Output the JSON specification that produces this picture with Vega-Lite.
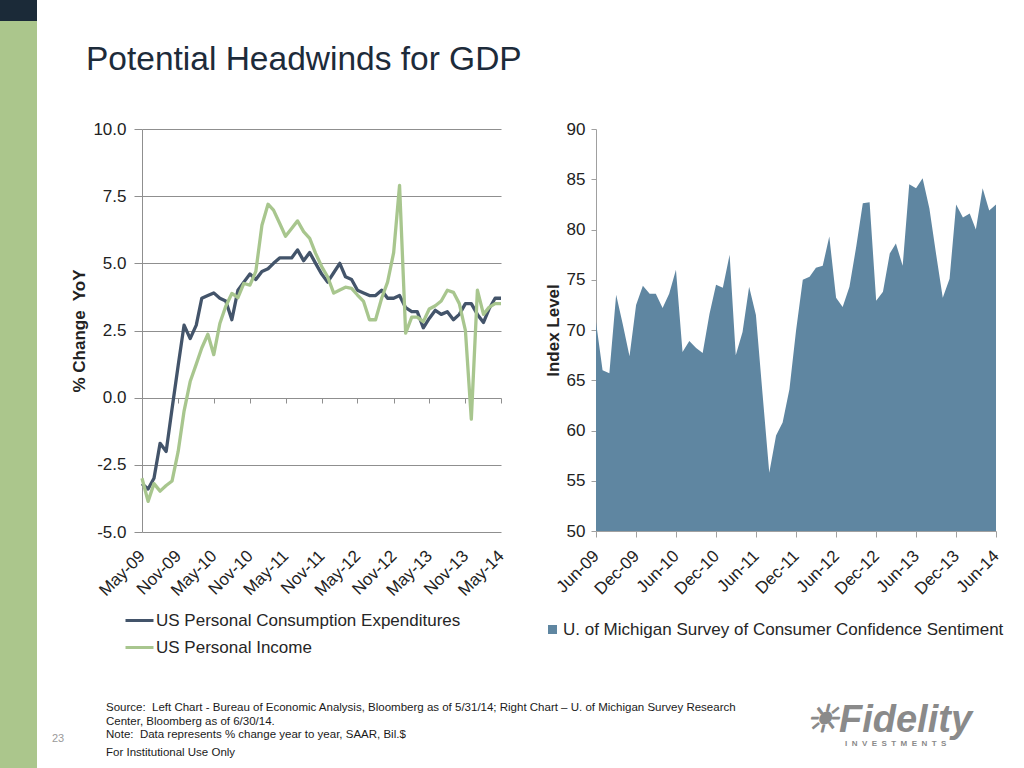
{
  "$schema": "https://vega.github.io/schema/vega-lite/v6.json",
  "padding": 0,
  "background": "#ffffff",
  "spacing": 5,
  "config": {
    "font": "Liberation Sans",
    "view": {"stroke": null},
    "title": {"font": "Liberation Sans", "subtitleFont": "Liberation Sans"},
    "axis": {"labelFont": "Liberation Sans", "titleFont": "Liberation Sans"},
    "legend": {"labelFont": "Liberation Sans"}
  },
  "hconcat": [
    {
      "spacing": 0,
      "vconcat": [
        {"width": 37, "height": 21, "view": {"fill": "#1b2a38", "stroke": null}, "data": {"values": []}, "mark": "point"},
        {"width": 37, "height": 747, "view": {"fill": "#abc68c", "stroke": null}, "data": {"values": []}, "mark": "point"}
      ]
    },
    {
      "width": 1,
      "height": 731,
      "data": {"values": []},
      "mark": "point",
      "title": {"text": "23", "orient": "bottom", "anchor": "start", "dx": 10, "offset": 2, "fontSize": 11, "fontWeight": "normal", "color": "#9a9a9a"}
    },
    {
      "spacing": 43,
      "vconcat": [
        {
          "width": 860,
          "height": 36,
          "data": {"values": []},
          "mark": "point",
          "title": {"text": "Potential Headwinds for GDP", "orient": "bottom", "anchor": "start", "dx": -56, "offset": 8, "fontSize": 33.5, "fontWeight": "normal", "color": "#1d2b3a"}
        },
        {
          "spacing": 37,
          "resolve": {"scale": {"color": "independent"}, "legend": {"color": "independent"}},
          "hconcat": [
            {
              "width": 359,
              "height": 403,
              "data": {
                "format": {"parse": {"m": "date:'%Y-%m'"}},
                "values": [
                  {"m": "2009-05", "pce": -3.2, "income": -3.0},
                  {"m": "2009-06", "pce": -3.4, "income": -3.86},
                  {"m": "2009-07", "pce": -3.0, "income": -3.2},
                  {"m": "2009-08", "pce": -1.7, "income": -3.48},
                  {"m": "2009-09", "pce": -2.0, "income": -3.27},
                  {"m": "2009-10", "pce": -0.4, "income": -3.1},
                  {"m": "2009-11", "pce": 1.2, "income": -2.0},
                  {"m": "2009-12", "pce": 2.7, "income": -0.5},
                  {"m": "2010-01", "pce": 2.2, "income": 0.6},
                  {"m": "2010-02", "pce": 2.7, "income": 1.25},
                  {"m": "2010-03", "pce": 3.7, "income": 1.85},
                  {"m": "2010-04", "pce": 3.8, "income": 2.36},
                  {"m": "2010-05", "pce": 3.9, "income": 1.6},
                  {"m": "2010-06", "pce": 3.7, "income": 2.76},
                  {"m": "2010-07", "pce": 3.6, "income": 3.4},
                  {"m": "2010-08", "pce": 2.9, "income": 3.88},
                  {"m": "2010-09", "pce": 4.0, "income": 3.72},
                  {"m": "2010-10", "pce": 4.3, "income": 4.25},
                  {"m": "2010-11", "pce": 4.6, "income": 4.19},
                  {"m": "2010-12", "pce": 4.4, "income": 4.7},
                  {"m": "2011-01", "pce": 4.7, "income": 6.42},
                  {"m": "2011-02", "pce": 4.8, "income": 7.2},
                  {"m": "2011-03", "pce": 5.0, "income": 6.98},
                  {"m": "2011-04", "pce": 5.2, "income": 6.49},
                  {"m": "2011-05", "pce": 5.2, "income": 6.01},
                  {"m": "2011-06", "pce": 5.2, "income": 6.3},
                  {"m": "2011-07", "pce": 5.5, "income": 6.58},
                  {"m": "2011-08", "pce": 5.1, "income": 6.18},
                  {"m": "2011-09", "pce": 5.4, "income": 5.93},
                  {"m": "2011-10", "pce": 5.0, "income": 5.37},
                  {"m": "2011-11", "pce": 4.6, "income": 4.88},
                  {"m": "2011-12", "pce": 4.3, "income": 4.5},
                  {"m": "2012-01", "pce": 4.65, "income": 3.89},
                  {"m": "2012-02", "pce": 5.0, "income": 4.01},
                  {"m": "2012-03", "pce": 4.5, "income": 4.11},
                  {"m": "2012-04", "pce": 4.4, "income": 4.07},
                  {"m": "2012-05", "pce": 4.0, "income": 3.82},
                  {"m": "2012-06", "pce": 3.9, "income": 3.58},
                  {"m": "2012-07", "pce": 3.8, "income": 2.9},
                  {"m": "2012-08", "pce": 3.8, "income": 2.9},
                  {"m": "2012-09", "pce": 4.0, "income": 3.7},
                  {"m": "2012-10", "pce": 3.7, "income": 4.3},
                  {"m": "2012-11", "pce": 3.7, "income": 5.4},
                  {"m": "2012-12", "pce": 3.8, "income": 7.9},
                  {"m": "2013-01", "pce": 3.35, "income": 2.4},
                  {"m": "2013-02", "pce": 3.2, "income": 3.0},
                  {"m": "2013-03", "pce": 3.2, "income": 3.0},
                  {"m": "2013-04", "pce": 2.6, "income": 2.83},
                  {"m": "2013-05", "pce": 2.95, "income": 3.3},
                  {"m": "2013-06", "pce": 3.25, "income": 3.42},
                  {"m": "2013-07", "pce": 3.1, "income": 3.6},
                  {"m": "2013-08", "pce": 3.2, "income": 4.0},
                  {"m": "2013-09", "pce": 2.9, "income": 3.92},
                  {"m": "2013-10", "pce": 3.1, "income": 3.5},
                  {"m": "2013-11", "pce": 3.5, "income": 2.5},
                  {"m": "2013-12", "pce": 3.5, "income": -0.8},
                  {"m": "2014-01", "pce": 3.1, "income": 4.0},
                  {"m": "2014-02", "pce": 2.8, "income": 3.1},
                  {"m": "2014-03", "pce": 3.3, "income": 3.36},
                  {"m": "2014-04", "pce": 3.7, "income": 3.5},
                  {"m": "2014-05", "pce": 3.7, "income": 3.5}
                ]
              },
              "transform": [{"fold": ["pce", "income"], "as": ["series", "value"]}],
              "layer": [
                {
                  "mark": {"type": "line", "opacity": 0},
                  "encoding": {
                    "x": {
                      "field": "m",
                      "type": "temporal",
                      "scale": {"domain": [{"year": 2009, "month": 5, "date": 1}, {"year": 2014, "month": 5, "date": 1}], "nice": false},
                      "axis": {
                        "orient": "bottom",
                        "offset": -134,
                        "values": [
                          {"year": 2009, "month": 5, "date": 1}, {"year": 2009, "month": 11, "date": 1},
                          {"year": 2010, "month": 5, "date": 1}, {"year": 2010, "month": 11, "date": 1},
                          {"year": 2011, "month": 5, "date": 1}, {"year": 2011, "month": 11, "date": 1},
                          {"year": 2012, "month": 5, "date": 1}, {"year": 2012, "month": 11, "date": 1},
                          {"year": 2013, "month": 5, "date": 1}, {"year": 2013, "month": 11, "date": 1},
                          {"year": 2014, "month": 5, "date": 1}
                        ],
                        "labels": false,
                        "domain": false,
                        "grid": false,
                        "ticks": true,
                        "tickSize": 5,
                        "tickColor": "#8f8f8f",
                        "title": null
                      }
                    },
                    "y": {"field": "value", "type": "quantitative", "scale": {"domain": [-5, 10], "nice": false, "zero": false}},
                    "detail": {"field": "series"}
                  }
                },
                {
                  "mark": {"type": "line", "strokeWidth": 3.3, "strokeJoin": "round"},
                  "encoding": {
                    "x": {
                      "field": "m",
                      "type": "temporal",
                      "scale": {"domain": [{"year": 2009, "month": 5, "date": 1}, {"year": 2014, "month": 5, "date": 1}], "nice": false},
                      "axis": {
                        "orient": "bottom",
                        "values": [
                          {"year": 2009, "month": 5, "date": 1}, {"year": 2009, "month": 11, "date": 1},
                          {"year": 2010, "month": 5, "date": 1}, {"year": 2010, "month": 11, "date": 1},
                          {"year": 2011, "month": 5, "date": 1}, {"year": 2011, "month": 11, "date": 1},
                          {"year": 2012, "month": 5, "date": 1}, {"year": 2012, "month": 11, "date": 1},
                          {"year": 2013, "month": 5, "date": 1}, {"year": 2013, "month": 11, "date": 1},
                          {"year": 2014, "month": 5, "date": 1}
                        ],
                        "format": "%b-%y",
                        "labelAngle": -45,
                        "labelAlign": "right",
                        "labelBaseline": "middle",
                        "labelFontSize": 17,
                        "labelColor": "#222222",
                        "labelPadding": 21,
                        "labelOverlap": false,
                        "labelFlush": false,
                        "ticks": false,
                        "domain": false,
                        "grid": false,
                        "title": null
                      }
                    },
                    "y": {
                      "field": "value",
                      "type": "quantitative",
                      "scale": {"domain": [-5, 10], "nice": false, "zero": false},
                      "axis": {
                        "values": [-5, -2.5, 0, 2.5, 5, 7.5, 10],
                        "format": ".1f",
                        "labelExpr": "replace(datum.label, '\u2212', '-')",
                        "labelFontSize": 17,
                        "labelColor": "#222222",
                        "labelPadding": 8,
                        "tickSize": 8,
                        "tickColor": "#8f8f8f",
                        "domainColor": "#8f8f8f",
                        "grid": true,
                        "gridColor": "#8f8f8f",
                        "title": "% Change\u00a0 YoY",
                        "titleFontSize": 17,
                        "titleFontWeight": "bold",
                        "titleColor": "#222222",
                        "titlePadding": 4
                      }
                    },
                    "color": {
                      "field": "series",
                      "type": "nominal",
                      "scale": {"domain": ["pce", "income"], "range": ["#43546a", "#a8c68e"]},
                      "legend": {
                        "orient": "none",
                        "legendX": -18,
                        "legendY": 476,
                        "title": null,
                        "direction": "vertical",
                        "symbolType": "stroke",
                        "symbolSize": 784,
                        "symbolStrokeWidth": 3,
                        "labelFontSize": 17,
                        "labelColor": "#262626",
                        "labelOffset": 1,
                        "rowPadding": 3,
                        "labelLimit": 400,
                        "labelExpr": "datum.value == 'pce' ? 'US Personal Consumption Expenditures' : 'US Personal Income'"
                      }
                    }
                  }
                }
              ],
              "resolve": {"axis": {"x": "independent"}}
            },
            {
              "width": 400,
              "height": 402,
              "data": {
                "format": {"parse": {"m": "date:'%Y-%m'"}},
                "values": [
                  {"m": "2009-06", "v": 70.8}, {"m": "2009-07", "v": 66.0}, {"m": "2009-08", "v": 65.7},
                  {"m": "2009-09", "v": 73.5}, {"m": "2009-10", "v": 70.6}, {"m": "2009-11", "v": 67.4},
                  {"m": "2009-12", "v": 72.5}, {"m": "2010-01", "v": 74.4}, {"m": "2010-02", "v": 73.6},
                  {"m": "2010-03", "v": 73.6}, {"m": "2010-04", "v": 72.2}, {"m": "2010-05", "v": 73.6},
                  {"m": "2010-06", "v": 76.0}, {"m": "2010-07", "v": 67.8}, {"m": "2010-08", "v": 68.9},
                  {"m": "2010-09", "v": 68.2}, {"m": "2010-10", "v": 67.7}, {"m": "2010-11", "v": 71.6},
                  {"m": "2010-12", "v": 74.5}, {"m": "2011-01", "v": 74.2}, {"m": "2011-02", "v": 77.5},
                  {"m": "2011-03", "v": 67.5}, {"m": "2011-04", "v": 69.8}, {"m": "2011-05", "v": 74.3},
                  {"m": "2011-06", "v": 71.5}, {"m": "2011-07", "v": 63.7}, {"m": "2011-08", "v": 55.8},
                  {"m": "2011-09", "v": 59.5}, {"m": "2011-10", "v": 60.8}, {"m": "2011-11", "v": 64.1},
                  {"m": "2011-12", "v": 69.9}, {"m": "2012-01", "v": 75.0}, {"m": "2012-02", "v": 75.3},
                  {"m": "2012-03", "v": 76.2}, {"m": "2012-04", "v": 76.4}, {"m": "2012-05", "v": 79.3},
                  {"m": "2012-06", "v": 73.2}, {"m": "2012-07", "v": 72.3}, {"m": "2012-08", "v": 74.3},
                  {"m": "2012-09", "v": 78.3}, {"m": "2012-10", "v": 82.6}, {"m": "2012-11", "v": 82.7},
                  {"m": "2012-12", "v": 72.9}, {"m": "2013-01", "v": 73.8}, {"m": "2013-02", "v": 77.6},
                  {"m": "2013-03", "v": 78.6}, {"m": "2013-04", "v": 76.4}, {"m": "2013-05", "v": 84.5},
                  {"m": "2013-06", "v": 84.1}, {"m": "2013-07", "v": 85.1}, {"m": "2013-08", "v": 82.1},
                  {"m": "2013-09", "v": 77.5}, {"m": "2013-10", "v": 73.2}, {"m": "2013-11", "v": 75.1},
                  {"m": "2013-12", "v": 82.5}, {"m": "2014-01", "v": 81.2}, {"m": "2014-02", "v": 81.6},
                  {"m": "2014-03", "v": 80.0}, {"m": "2014-04", "v": 84.1}, {"m": "2014-05", "v": 81.9},
                  {"m": "2014-06", "v": 82.5}
                ]
              },
              "mark": {"type": "area", "opacity": 1},
              "encoding": {
                "x": {
                  "field": "m",
                  "type": "temporal",
                  "scale": {"domain": [{"year": 2009, "month": 6, "date": 1}, {"year": 2014, "month": 6, "date": 1}], "nice": false},
                  "axis": {
                    "values": [
                      {"year": 2009, "month": 6, "date": 1}, {"year": 2009, "month": 12, "date": 1},
                      {"year": 2010, "month": 6, "date": 1}, {"year": 2010, "month": 12, "date": 1},
                      {"year": 2011, "month": 6, "date": 1}, {"year": 2011, "month": 12, "date": 1},
                      {"year": 2012, "month": 6, "date": 1}, {"year": 2012, "month": 12, "date": 1},
                      {"year": 2013, "month": 6, "date": 1}, {"year": 2013, "month": 12, "date": 1},
                      {"year": 2014, "month": 6, "date": 1}
                    ],
                    "format": "%b-%y",
                    "labelAngle": -45,
                    "labelAlign": "right",
                    "labelBaseline": "middle",
                    "labelFontSize": 17,
                    "labelColor": "#222222",
                    "labelPadding": 16,
                    "labelOverlap": false,
                    "labelFlush": false,
                    "ticks": true,
                    "tickSize": 6,
                    "tickColor": "#a0a0a0",
                    "domainColor": "#a0a0a0",
                    "grid": false,
                    "title": null
                  }
                },
                "y": {
                  "field": "v",
                  "type": "quantitative",
                  "scale": {"domain": [50, 90], "nice": false, "zero": false},
                  "axis": {
                    "values": [50, 55, 60, 65, 70, 75, 80, 85, 90],
                    "labelFontSize": 17,
                    "labelColor": "#222222",
                    "labelPadding": 6,
                    "tickSize": 5,
                    "tickColor": "#a0a0a0",
                    "domainColor": "#a0a0a0",
                    "grid": false,
                    "title": "Index Level",
                    "titleFontSize": 17,
                    "titleFontWeight": "bold",
                    "titleColor": "#222222",
                    "titlePadding": 4
                  }
                },
                "y2": {"datum": 50},
                "color": {
                  "datum": "U. of Michigan Survey of Consumer Confidence Sentiment",
                  "scale": {"range": ["#5f86a1"]},
                  "legend": {
                    "orient": "none",
                    "legendX": -52,
                    "legendY": 492,
                    "title": null,
                    "symbolType": "square",
                    "symbolSize": 81,
                    "symbolStrokeWidth": 0,
                    "labelFontSize": 17,
                    "labelColor": "#262626",
                    "labelOffset": 2,
                    "labelLimit": 500
                  }
                }
              }
            }
          ]
        },
        {
          "spacing": 68,
          "hconcat": [
            {
              "width": 1,
              "height": 1,
              "data": {"values": []},
              "mark": "point",
              "title": {
                "text": [
                  "Source:\u00a0 Left Chart - Bureau of Economic Analysis, Bloomberg as of 5/31/14; Right Chart \u2013 U. of Michigan Survey Research",
                  "Center, Bloomberg as of 6/30/14.",
                  "Note:\u00a0 Data represents % change year to year, SAAR, Bil.$"
                ],
                "subtitle": "For Institutional Use Only",
                "orient": "bottom",
                "anchor": "start",
                "dx": -36,
                "offset": 2,
                "fontSize": 11.5,
                "lineHeight": 13.5,
                "fontWeight": "normal",
                "color": "#1a1a1a",
                "subtitleFontSize": 11.5,
                "subtitleColor": "#1a1a1a",
                "subtitlePadding": 6
              }
            },
            {
              "width": 1,
              "height": 1,
              "data": {"values": []},
              "mark": "point",
              "title": {
                "text": "\u2600Fidelity",
                "subtitle": "\u200b\u00a0\u00a0\u00a0\u00a0\u00a0\u00a0\u00a0\u00a0\u00a0\u00a0\u00a0\u00a0\u00a0\u00a0\u00a0\u00a0\u00a0\u00a0I\u00a0\u00a0N\u00a0\u00a0V\u00a0\u00a0E\u00a0\u00a0S\u00a0\u00a0T\u00a0\u00a0M\u00a0\u00a0E\u00a0\u00a0N\u00a0\u00a0T\u00a0\u00a0S",
                "orient": "bottom",
                "anchor": "start",
                "offset": 2,
                "fontSize": 38,
                "fontStyle": "italic",
                "fontWeight": "bold",
                "color": "#8a8a8a",
                "subtitleFontSize": 8,
                "subtitleFontWeight": "bold",
                "subtitleColor": "#8a8a8a",
                "subtitlePadding": 0
              }
            }
          ]
        }
      ]
    }
  ]
}
